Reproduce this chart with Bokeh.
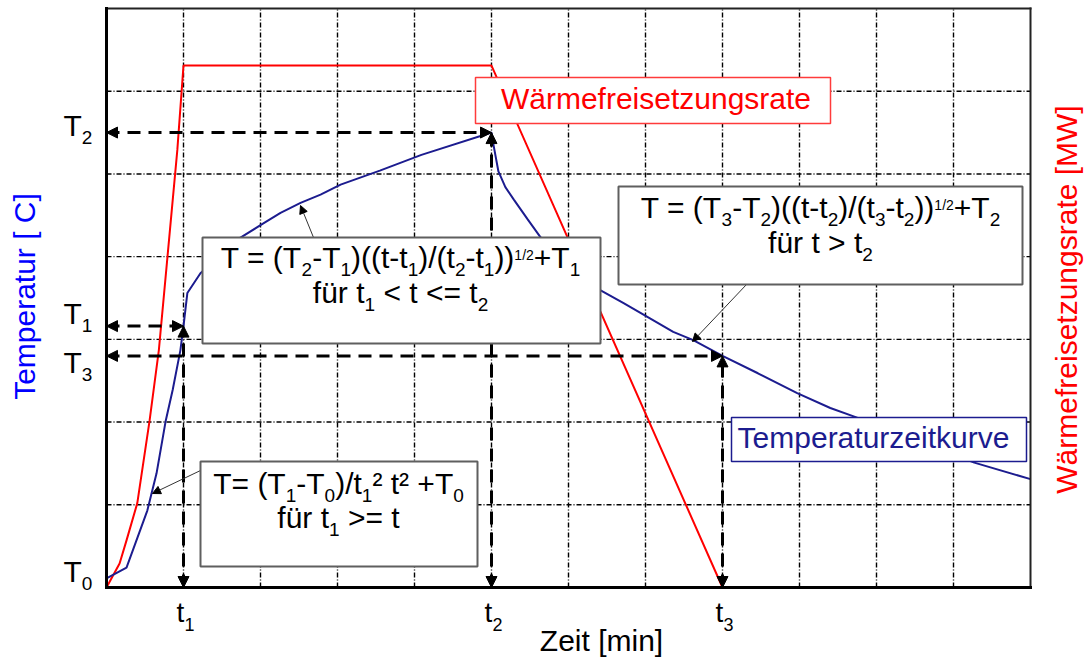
import math
from bokeh.plotting import figure
from bokeh.models import Label, Arrow, NormalHead, BoxAnnotation, Range1d
from bokeh.embed import file_html
from bokeh.resources import INLINE

# ---------------- data ----------------
# Temperaturzeitkurve (blue): time and temperature in grid units
blue_t = [0.00, 0.26, 0.53, 0.65, 0.77, 0.86, 0.96, 1.00, 1.05, 1.22, 1.74, 2.00,
          2.26, 2.52, 2.78, 3.04, 3.55, 4.09, 5.00, 5.03, 5.09, 5.18, 5.29, 5.47,
          5.64, 6.40, 6.71, 7.03, 7.36, 7.62, 8.00, 8.46, 8.97, 9.40, 9.73, 11.27, 12.00]
blue_T = [0.11, 0.24, 0.93, 1.38, 2.02, 2.39, 2.87, 3.16, 3.56, 3.80, 4.23, 4.38,
          4.53, 4.65, 4.75, 4.87, 5.04, 5.23, 5.50, 5.33, 5.03, 4.84, 4.69, 4.45,
          4.23, 3.60, 3.44, 3.27, 3.09, 2.99, 2.80, 2.59, 2.35, 2.17, 2.06, 1.51, 1.31]
# Waermefreisetzungsrate (red)
red_t = [0.00, 0.17, 0.26, 0.40, 0.56, 0.68, 0.92, 1.00, 5.00, 8.00]
red_Q = [0.00, 0.29, 0.57, 1.02, 2.02, 2.87, 5.29, 6.31, 6.31, 0.00]

# characteristic points
t_ticks = [1.0, 5.0, 8.0]            # t1, t2, t3
t_names = ["1", "2", "3"]
T_levels = [0.11, 3.16, 5.50, 2.80]  # T0, T1, T2, T3
T_names = ["0", "1", "2", "3"]
x_max, y_max = 12, 7
x_grid = list(range(1, x_max))
y_grid = list(range(1, y_max))

# ---------------- layout (pixels of the picture) ----------------
W, H = 1088, 659
FL, FR, FT, FB = 106, 1030, 8, 587   # chart box


def X(px):
    return (px - FL) / (FR - FL) * x_max


def Y(py):
    return (FB - py) / (FB - FT) * y_max


FONT = "Liberation Sans"
MID = 0.34   # distance from baseline to the middle of the text box, in em
ADV = {"T": 611, "t": 278, "f": 278, "ü": 556, "r": 333, " ": 278, "=": 584,
       "(": 333, ")": 333, "-": 333, "/": 278, "+": 584, "<": 584, ">": 584,
       "²": 333}


def text_w(s, size):
    return sum(ADV.get(c, 556) for c in s) * size / 1000.0


p = figure(width=W, height=H,
           x_range=Range1d(X(0), X(W)), y_range=Range1d(Y(H), Y(0)),
           output_backend="svg", toolbar_location=None,
           min_border_left=0, min_border_right=0, min_border_top=0, min_border_bottom=0)
p.axis.visible = False
p.grid.visible = False
p.outline_line_color = None
p.background_fill_color = "white"
p.border_fill_color = "white"

BLUE = "#1c1c8f"
RED = "#ff0000"

# grid (dash-dot)
p.segment(x0=x_grid, y0=[0] * len(x_grid), x1=x_grid, y1=[y_max] * len(x_grid),
          line_color="black", line_width=1.4, line_dash="5 2 1 2", line_alpha=1)
p.segment(x0=[0] * len(y_grid), y0=y_grid, x1=[x_max] * len(y_grid), y1=y_grid,
          line_color="black", line_width=1.4, line_dash="5 2 1 2", line_alpha=1)

# curves
p.line(red_t, red_Q, line_color=RED, line_width=2)
p.line(blue_t, blue_T, line_color=BLUE, line_width=2)

# chart frame: top and right thin, left and bottom thick
p.segment(x0=[0, x_max], y0=[y_max, y_max], x1=[x_max, x_max], y1=[y_max, 0],
          line_color="#222222", line_width=2, line_cap="square")
p.segment(x0=[0, 0], y0=[0, 0], x1=[0, x_max], y1=[y_max, 0],
          line_color="black", line_width=3, line_cap="square")


def put(text, px, py_base, fs, color, align="left", angle=0.0):
    p.add_layout(Label(x=X(px), y=Y(py_base - MID * fs), text=text, angle=angle,
                       text_font=FONT, text_font_size=f"{fs}px", text_color=color,
                       text_align=align, text_baseline="middle"))


def rich(segs, px, py, align="center", color="black", size=30):
    styles = {"n": (size, 0), "s": (round(size * 0.63), -8), "p": (round(size * 0.47), 8)}
    total = sum(text_w(t, styles[k][0]) for t, k in segs)
    x0 = px - total / 2.0 if align == "center" else px
    for t, k in segs:
        fs, dyp = styles[k]
        lead = len(t) - len(t.lstrip(" "))
        shown = t.strip(" ")
        if shown:
            put(shown, x0 + text_w(" " * lead, fs), py - dyp, fs, color)
        x0 += text_w(t, fs)


def head(sz):
    return NormalHead(size=sz, fill_color="black", line_color="black", line_width=1)


# dashed double arrows marking t_i / T_i
T0, T1, T2, T3 = T_levels
t1, t2, t3 = t_ticks
for (xs, ys, xe, ye) in [(0, T2, t2, T2), (0, T1, t1, T1), (0, T3, t3, T3),
                         (t1, 0, t1, T1), (t2, 0, t2, T2), (t3, 0, t3, T3)]:
    p.add_layout(Arrow(x_start=xs, y_start=ys, x_end=xe, y_end=ye,
                       start=head(11), end=head(11), line_color="black",
                       line_width=3, line_dash="13 8"))

# leader lines from the formula boxes to the curve
for (sx, sy, ex, ey) in [(313, 237, 300, 205), (746, 284, 692, 341), (200, 470, 152, 493)]:
    p.add_layout(Arrow(x_start=X(sx), y_start=Y(sy), x_end=X(ex), y_end=Y(ey),
                       end=head(8), line_color="#333333", line_width=1))


def box(l, r, t, b, color, lw):
    p.add_layout(BoxAnnotation(left=X(l), right=X(r), top=Y(t), bottom=Y(b),
                               fill_color="white", fill_alpha=1,
                               line_color=color, line_width=lw, line_alpha=1))


box(475, 830, 77, 123, "#ff3b3b", 1.5)
box(731, 1026, 417, 461, BLUE, 1.5)
box(202, 600, 237, 343, "#5f5f5f", 2)
box(618, 1022, 186, 284, "#5f5f5f", 2)
box(200, 477, 461, 566, "#5f5f5f", 2)

# legend-like labels
rich([("Wärmefreisetzungsrate", "n")], 653, 108, color=RED)
rich([("Temperaturzeitkurve", "n")], 878, 447, color=BLUE)

# formulas
rich([("T = (T", "n"), ("2", "s"), ("-T", "n"), ("1", "s"), (")((t-t", "n"), ("1", "s"),
      (")/(t", "n"), ("2", "s"), ("-t", "n"), ("1", "s"), ("))", "n"), ("1/2", "p"),
      ("+T", "n"), ("1", "s")], 400, 267)
rich([("für t", "n"), ("1", "s"), (" < t <= t", "n"), ("2", "s")], 400, 302)

rich([("T = (T", "n"), ("3", "s"), ("-T", "n"), ("2", "s"), (")((t-t", "n"), ("2", "s"),
      (")/(t", "n"), ("3", "s"), ("-t", "n"), ("2", "s"), ("))", "n"), ("1/2", "p"),
      ("+T", "n"), ("2", "s")], 820, 217)
rich([("für t > t", "n"), ("2", "s")], 820, 252)

rich([("T= (T", "n"), ("1", "s"), ("-T", "n"), ("0", "s"), (")/t", "n"), ("1", "s"),
      ("² t² +T", "n"), ("0", "s")], 338, 493)
rich([("für t", "n"), ("1", "s"), (" >= t", "n")], 338, 527)

# tick-like labels
T_baselines = [581, 323, 135, 372]
for name, bl in zip(T_names, T_baselines):
    rich([("T", "n"), (name, "s")], 63, bl, align="left")
for tv, name in zip(t_ticks, t_names):
    cx = FL + tv / x_max * (FR - FL)
    rich([("t", "n"), (name, "s")], cx + 2, 622, size=28)

# axis titles
put("Zeit [min]", 601, 650, 30, "black", align="center")
p.add_layout(Label(x=X(24), y=Y(296), text="Temperatur [ C]", angle=math.pi / 2,
                   text_font=FONT, text_font_size="30px", text_color="#0000ff",
                   text_align="center", text_baseline="middle"))
p.add_layout(Label(x=X(1066), y=Y(299), text="Wärmefreisetzungsrate [MW]", angle=math.pi / 2,
                   text_font=FONT, text_font_size="30px", text_color=RED,
                   text_align="center", text_baseline="middle"))

open("out.html", "w").write(file_html(p, INLINE))
